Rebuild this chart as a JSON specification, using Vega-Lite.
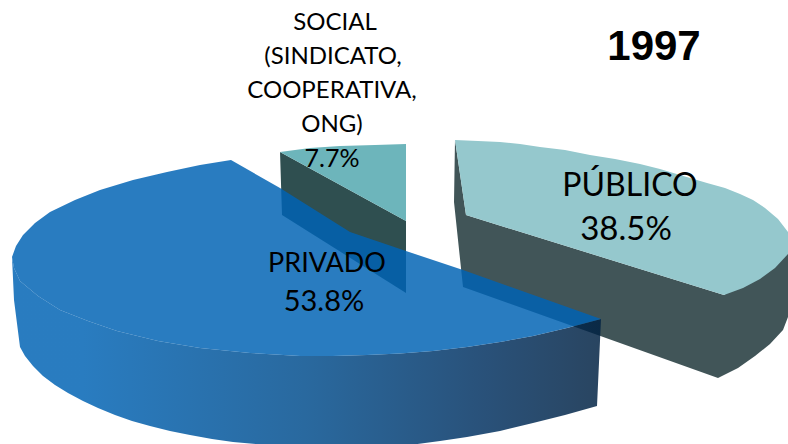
{
"$schema":"https://vega.github.io/schema/vega-lite/v6.json",
"width":788,"height":444,"padding":0,
"autosize":{"type":"fit","contains":"padding"},
"background":"white",
"view":{"stroke":null},
"datasets":{
"socialSide":[{"i":1,"x":280,"y":152},{"i":2,"x":406,"y":221},{"i":3,"x":406,"y":293},{"i":4,"x":282,"y":215}],
"socialTop":[{"i":1,"x":280,"y":152},{"i":2,"x":310,"y":148},{"i":3,"x":340,"y":146},{"i":4,"x":375,"y":145},{"i":5,"x":406,"y":144},{"i":6,"x":406,"y":221}],
"publicoSide":[{"i":1,"x":455,"y":140},{"i":2,"x":454,"y":202},{"i":3,"x":463,"y":287},{"i":4,"x":718,"y":378},{"i":5,"x":738,"y":368},{"i":6,"x":755,"y":356},{"i":7,"x":770,"y":344},{"i":8,"x":783,"y":330},{"i":9,"x":788,"y":317},{"i":10,"x":788,"y":250},{"i":11,"x":724,"y":295},{"i":12,"x":466,"y":215}],
"publicoTop":[{"i":1,"x":455,"y":140},{"i":2,"x":478,"y":141},{"i":3,"x":500,"y":142},{"i":4,"x":520,"y":144},{"i":5,"x":540,"y":147},{"i":6,"x":565,"y":150},{"i":7,"x":590,"y":155},{"i":8,"x":615,"y":159},{"i":9,"x":640,"y":164},{"i":10,"x":660,"y":169},{"i":11,"x":680,"y":175},{"i":12,"x":707,"y":183},{"i":13,"x":725,"y":188},{"i":14,"x":740,"y":194},{"i":15,"x":753,"y":200},{"i":16,"x":765,"y":208},{"i":17,"x":778,"y":219},{"i":18,"x":788,"y":232},{"i":19,"x":788,"y":254},{"i":20,"x":775,"y":268},{"i":21,"x":760,"y":279},{"i":22,"x":743,"y":288},{"i":23,"x":724,"y":295},{"i":24,"x":466,"y":215}],
"privadoSide":[{"i":1,"x":12,"y":257},{"i":2,"x":14,"y":300},{"i":3,"x":20,"y":347},{"i":4,"x":25,"y":356},{"i":5,"x":33,"y":366},{"i":6,"x":43,"y":376},{"i":7,"x":55,"y":385},{"i":8,"x":68,"y":393},{"i":9,"x":83,"y":401},{"i":10,"x":98,"y":408},{"i":11,"x":115,"y":415},{"i":12,"x":132,"y":421},{"i":13,"x":150,"y":426},{"i":14,"x":170,"y":431},{"i":15,"x":190,"y":435},{"i":16,"x":212,"y":439},{"i":17,"x":233,"y":442},{"i":18,"x":267,"y":445},{"i":19,"x":300,"y":448},{"i":20,"x":340,"y":449},{"i":21,"x":375,"y":448},{"i":22,"x":410,"y":445},{"i":23,"x":440,"y":441},{"i":24,"x":467,"y":437},{"i":25,"x":500,"y":431},{"i":26,"x":533,"y":423},{"i":27,"x":565,"y":415},{"i":28,"x":597,"y":406},{"i":29,"x":601,"y":319},{"i":30,"x":567,"y":328},{"i":31,"x":533,"y":336},{"i":32,"x":500,"y":342},{"i":33,"x":467,"y":347},{"i":34,"x":433,"y":351},{"i":35,"x":400,"y":353.5},{"i":36,"x":367,"y":355},{"i":37,"x":333,"y":356},{"i":38,"x":300,"y":356},{"i":39,"x":250,"y":353},{"i":40,"x":200,"y":348},{"i":41,"x":158,"y":341},{"i":42,"x":117,"y":331},{"i":43,"x":88,"y":321},{"i":44,"x":60,"y":310},{"i":45,"x":38,"y":296},{"i":46,"x":20,"y":281},{"i":47,"x":14,"y":268}],
"privadoTop":[{"i":1,"x":231,"y":160},{"i":2,"x":200,"y":165},{"i":3,"x":167,"y":172},{"i":4,"x":133,"y":180},{"i":5,"x":100,"y":190},{"i":6,"x":75,"y":200},{"i":7,"x":50,"y":212},{"i":8,"x":35,"y":223},{"i":9,"x":23,"y":235},{"i":10,"x":16,"y":246},{"i":11,"x":12,"y":257},{"i":12,"x":14,"y":268},{"i":13,"x":20,"y":281},{"i":14,"x":38,"y":296},{"i":15,"x":60,"y":310},{"i":16,"x":88,"y":321},{"i":17,"x":117,"y":331},{"i":18,"x":158,"y":341},{"i":19,"x":200,"y":348},{"i":20,"x":250,"y":353},{"i":21,"x":300,"y":356},{"i":22,"x":333,"y":356},{"i":23,"x":367,"y":355},{"i":24,"x":400,"y":353.5},{"i":25,"x":433,"y":351},{"i":26,"x":467,"y":347},{"i":27,"x":500,"y":342},{"i":28,"x":533,"y":336},{"i":29,"x":567,"y":328},{"i":30,"x":601,"y":319},{"i":31,"x":463,"y":270},{"i":32,"x":406,"y":251},{"i":33,"x":350,"y":232},{"i":34,"x":280,"y":188}],
"small":[{"t":"SOCIAL","x":335,"y":30},{"t":"(SINDICATO,","x":333,"y":64},{"t":"COOPERATIVA,","x":332,"y":98},{"t":"ONG)","x":332,"y":132}],
"smallPct":[{"t":"7.7%","x":332,"y":167}],
"mid":[{"t":"PRIVADO","x":327,"y":272}],
"midPct":[{"t":"53.8%","x":324,"y":311}],
"big":[{"t":"PÚBLICO","x":630,"y":196}],
"bigPct":[{"t":"38.5%","x":626,"y":240}],
"year":[{"t":"1997","x":654,"y":60}]
},
"encoding":{
"x":{"field":"x","type":"quantitative","axis":null,"scale":{"domain":[0,788],"nice":false,"zero":false}},
"y":{"field":"y","type":"quantitative","axis":null,"scale":{"domain":[444,0],"nice":false,"zero":false}}
},
"layer":[
{"data":{"name":"socialSide"},"mark":{"type":"line","fill":"#2f4f50","strokeWidth":0,"clip":true},"encoding":{"order":{"field":"i"}}},
{"data":{"name":"socialTop"},"mark":{"type":"line","fill":"#6db5bb","strokeWidth":0,"clip":true},"encoding":{"order":{"field":"i"}}},
{"data":{"name":"publicoSide"},"mark":{"type":"line","fill":"#415558","strokeWidth":0,"clip":true},"encoding":{"order":{"field":"i"}}},
{"data":{"name":"publicoTop"},"mark":{"type":"line","fill":"#95c8cd","strokeWidth":0,"clip":true},"encoding":{"order":{"field":"i"}}},
{"data":{"name":"privadoSide"},"mark":{"type":"line","strokeWidth":0,"clip":true,"fillOpacity":0.84,"fill":{"gradient":"linear","x1":0,"y1":0,"x2":1,"y2":0,"stops":[{"offset":0,"color":"#0063b4"},{"offset":0.12,"color":"#0063b4"},{"offset":0.5,"color":"#004c8c"},{"offset":0.8,"color":"#003060"},{"offset":1,"color":"#002142"}]}},"encoding":{"order":{"field":"i"}}},
{"data":{"name":"privadoTop"},"mark":{"type":"line","fill":"#0063b4","fillOpacity":0.84,"strokeWidth":0,"clip":true},"encoding":{"order":{"field":"i"}}},
{"data":{"name":"small"},"mark":{"type":"text","font":"Lato","fontSize":24,"align":"center","baseline":"alphabetic","color":"#000"},"encoding":{"text":{"field":"t"}}},
{"data":{"name":"smallPct"},"mark":{"type":"text","font":"Lato","fontSize":25,"align":"center","baseline":"alphabetic","color":"#000"},"encoding":{"text":{"field":"t"}}},
{"data":{"name":"mid"},"mark":{"type":"text","font":"Lato","fontSize":27,"align":"center","baseline":"alphabetic","color":"#000"},"encoding":{"text":{"field":"t"}}},
{"data":{"name":"midPct"},"mark":{"type":"text","font":"Lato","fontSize":29,"align":"center","baseline":"alphabetic","color":"#000"},"encoding":{"text":{"field":"t"}}},
{"data":{"name":"big"},"mark":{"type":"text","font":"Lato","fontSize":32,"align":"center","baseline":"alphabetic","color":"#000"},"encoding":{"text":{"field":"t"}}},
{"data":{"name":"bigPct"},"mark":{"type":"text","font":"Lato","fontSize":33,"align":"center","baseline":"alphabetic","color":"#000"},"encoding":{"text":{"field":"t"}}},
{"data":{"name":"year"},"mark":{"type":"text","font":"Liberation Sans","fontWeight":"bold","fontSize":42,"align":"center","baseline":"alphabetic","color":"#000"},"encoding":{"text":{"field":"t"}}}
]
}
